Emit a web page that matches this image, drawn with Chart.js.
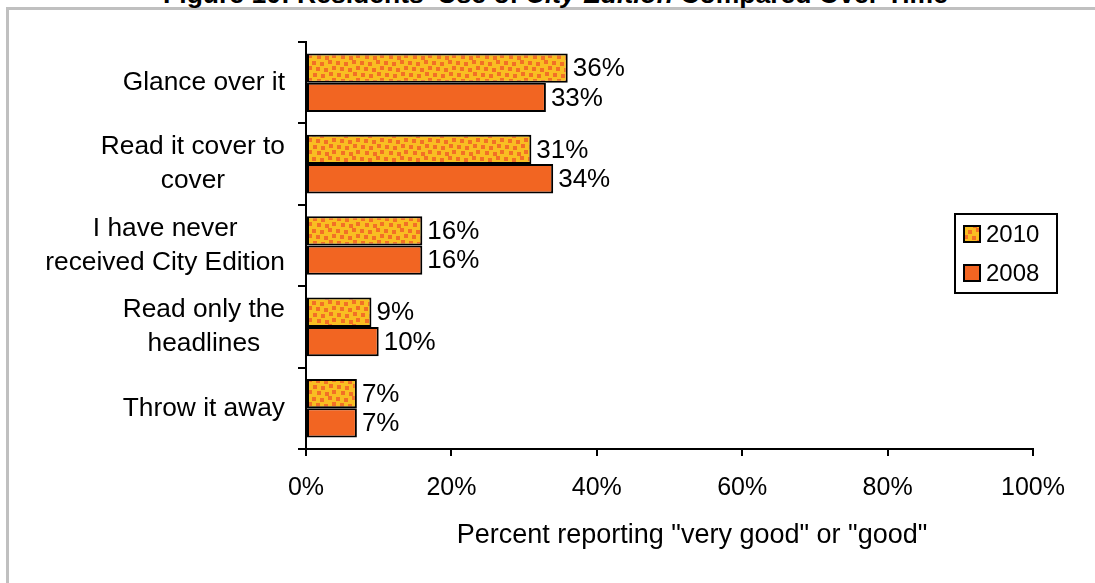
<!DOCTYPE html>
<html>
<head>
<meta charset="utf-8">
<script src="https://cdn.jsdelivr.net/npm/chart.js@4.4.1/dist/chart.umd.min.js"></script>
<style>
  html, body { margin: 0; padding: 0; background: #fff; overflow: hidden; }
  body { width: 1095px; height: 583px; position: relative; font-family: "Liberation Sans", Arial, sans-serif; }
  #frame { position: absolute; left: 6px; top: 7px; width: 2000px; height: 2000px;
           border-top: 3px solid #c0c0c0; border-left: 3px solid #c0c0c0; }
  #title { position: absolute; left: 0; width: 1111px; top: -18px; line-height: 24px;
           text-align: center; font-weight: bold; font-size: 26.5px; color: #000; white-space: nowrap; }
  #chart { position: absolute; left: 0; top: 0; }
</style>
</head>
<body>
<div id="frame"></div>
<div id="title">Figure 10: Residents' Use of <i>City Edition</i> Compared Over Time</div>
<canvas id="chart" width="1095" height="583"></canvas>
<script>
// dados do grafico
const categorias = [
    ['Glance over it'],
    ['Read it cover to', 'cover'],
    ['I have never', 'received City Edition'],
    ['Read only the', 'headlines'],
    ['Throw it away']
];
const serieLabels = ['2010', '2008'];
const valores2010 = [36, 31, 16, 9, 7];
const valores2008 = [33, 34, 16, 10, 7];
const xTicks = [0, 20, 40, 60, 80, 100];
const tituloEixoX = 'Percent reporting "very good" or "good"';

const FONTE = '"Liberation Sans", Arial, sans-serif';

// padrao pontilhado da serie 2010 (pontos meio irregulares)
const criarPadrao = () => {
    const tile = document.createElement('canvas');
    tile.width = 24;
    tile.height = 24;
    const c = tile.getContext('2d');
    c.fillStyle = '#f9be22';
    c.fillRect(0, 0, 24, 24);
    c.fillStyle = '#f27026';
    [[1, 1], [9, 2], [17, 0], [5, 7], [13, 8], [20, 6],
     [0, 13], [8, 14], [16, 12], [4, 19], [12, 20], [20, 18]].forEach(([x, y]) => c.fillRect(x, y, 4, 4));
    return document.getElementById('chart').getContext('2d').createPattern(tile, 'repeat');
};

const padrao = criarPadrao();
const laranja = '#f26522';

// rotulos das categorias, cada linha centrada no bloco
const rotulosY = {
    id: 'rotulosY',
    afterDraw(chart) {
        const ctx = chart.ctx;
        const y = chart.scales.y;
        ctx.save();
        ctx.font = '26.3px ' + FONTE;
        ctx.fillStyle = '#000';
        ctx.textAlign = 'center';
        ctx.textBaseline = 'middle';
        const alt = 34;
        categorias.forEach((linhas, i) => {
            const cy = y.getPixelForValue(i);
            const maxW = Math.max(...linhas.map(l => ctx.measureText(l).width));
            const cx = 285 - maxW / 2;
            linhas.forEach((l, k) => {
                ctx.fillText(l, cx, cy + (k - (linhas.length - 1) / 2) * alt);
            });
        });
        ctx.restore();
    }
};

// valores no fim das barras
const valoresBarras = {
    id: 'valoresBarras',
    afterDatasetsDraw(chart) {
        const ctx = chart.ctx;
        ctx.save();
        ctx.font = '26px ' + FONTE;
        ctx.fillStyle = '#000';
        ctx.textAlign = 'left';
        ctx.textBaseline = 'middle';
        chart.data.datasets.forEach((ds, d) => {
            chart.getDatasetMeta(d).data.forEach((bar, i) => {
                ctx.fillText(ds.data[i] + '%', bar.x + 5, bar.y + 1);
            });
        });
        ctx.restore();
    }
};

// legenda e titulo do eixo x
const legendaCaixa = {
    id: 'legendaCaixa',
    afterDraw(chart) {
        const ctx = chart.ctx;
        ctx.save();
        ctx.lineWidth = 2;
        ctx.strokeStyle = '#000';
        ctx.strokeRect(955, 214, 102, 79);
        ctx.font = '24px ' + FONTE;
        ctx.textBaseline = 'middle';
        chart.data.datasets.forEach((ds, d) => {
            const sy = 226 + d * 39;
            ctx.fillStyle = ds.backgroundColor;
            ctx.fillRect(964, sy, 16, 16);
            ctx.strokeRect(964, sy, 16, 16);
            ctx.fillStyle = '#000';
            ctx.fillText(ds.label, 986, sy + 9);
        });
        ctx.font = '27px ' + FONTE;
        ctx.textAlign = 'center';
        ctx.textBaseline = 'alphabetic';
        ctx.fillText(tituloEixoX, 692, 543);
        ctx.restore();
    }
};

new Chart(document.getElementById('chart'), {
    type: 'bar',
    data: {
        labels: categorias,
        datasets: [{
            label: serieLabels[0],
            data: valores2010,
            backgroundColor: padrao,
            borderColor: '#000',
            borderWidth: 2,
            borderSkipped: false
        }, {
            label: serieLabels[1],
            data: valores2008,
            backgroundColor: laranja,
            borderColor: '#000',
            borderWidth: 2,
            borderSkipped: false
        }]
    },
    options: {
        indexAxis: 'y',
        responsive: false,
        animation: false,
        categoryPercentage: 0.72,
        barPercentage: 1.0,
        layout: { padding: { top: 42, right: 62, left: 0, bottom: 0 } },
        plugins: {
            legend: { display: false },
            tooltip: { enabled: false }
        },
        scales: {
            x: {
                type: 'linear',
                min: xTicks[0],
                max: xTicks[xTicks.length - 1],
                afterBuildTicks: scale => { scale.ticks = xTicks.map(v => ({ value: v })); },
                afterFit: scale => { scale.height = 134; },
                ticks: {
                    callback: v => v + '%',
                    color: '#000',
                    font: { family: FONTE, size: 25 },
                    padding: 17,
                    maxRotation: 0
                },
                grid: { drawOnChartArea: false, tickLength: 7, color: '#000', lineWidth: 2 },
                border: { color: '#000', width: 2 }
            },
            y: {
                type: 'category',
                offset: true,
                afterFit: scale => { scale.width = 306; },
                ticks: { display: false },
                grid: { offset: true, drawOnChartArea: false, tickLength: 8, color: '#000', lineWidth: 2 },
                border: { color: '#000', width: 2 }
            }
        }
    },
    plugins: [rotulosY, valoresBarras, legendaCaixa]
});
</script>
</body>
</html>
